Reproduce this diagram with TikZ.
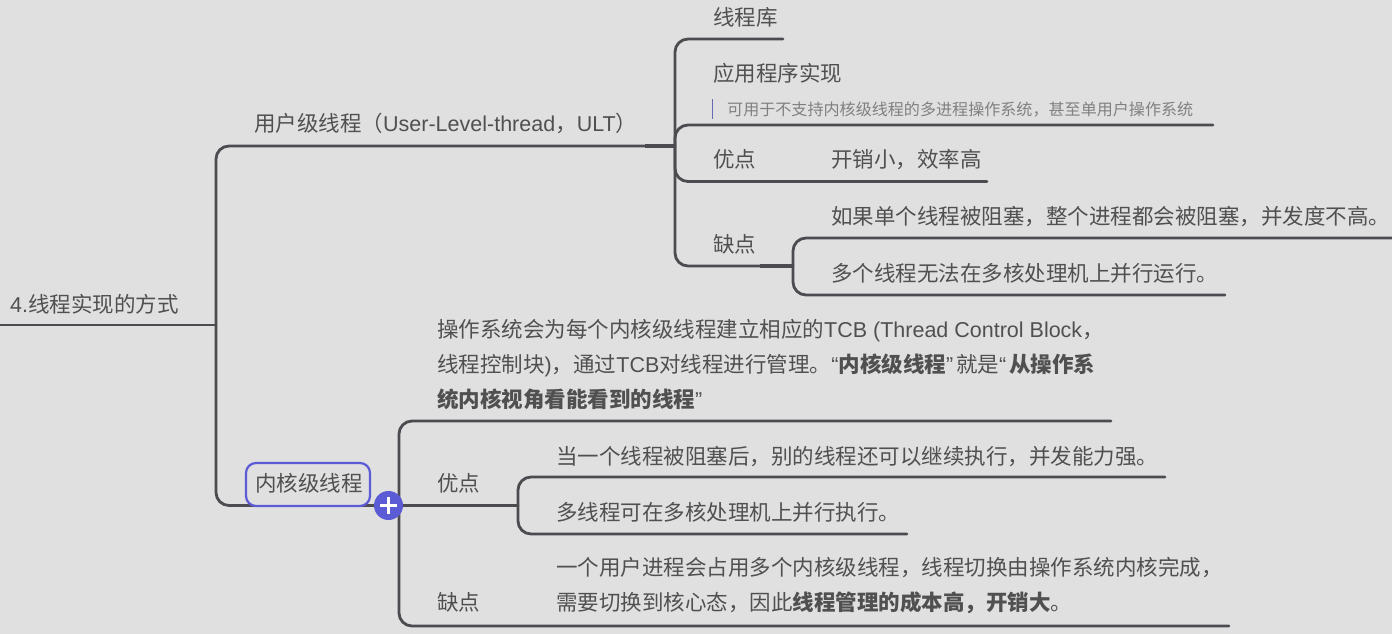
\documentclass[tikz,border=0pt]{standalone}
\usepackage{fontspec}
\setmainfont{Noto Sans CJK SC}
\newfontfamily\lat{Liberation Sans}
\newcommand{\lt}[1]{{\lat #1}}
\definecolor{bgc}{HTML}{E0E0E0}
\definecolor{linec}{HTML}{4C4B50}
\definecolor{textc}{HTML}{505050}
\definecolor{notec}{HTML}{808080}
\definecolor{accent}{HTML}{5B5BD6}
\tikzset{
  label/.style={anchor=west,inner sep=0pt,yshift=0.7pt,text=textc,font=\fontsize{21.5}{35}\selectfont},
  note/.style={anchor=west,inner sep=0pt,yshift=0.7pt,text=notec,font=\fontsize{16.07}{20}\selectfont},
  branch/.style={draw=linec,line width=2.8pt,rounded corners=13pt,line cap=round},
  hub/.style={draw=linec,line width=3.8pt},
}
\begin{document}
\begin{tikzpicture}[x=1pt,y=-1pt]
\path[fill=bgc] (0,0) rectangle (1392,634);
\useasboundingbox (0,0) rectangle (1392,634);
% hubs and free ends
\coordinate (start) at (0,325);
\coordinate (hubroot) at (216,325);
\coordinate (hubu0) at (645,146);
\coordinate (hubu) at (675,146);
\coordinate (hubk) at (399,505.5);
\coordinate (hubkp0) at (487,505.5);
\coordinate (hubkp) at (518,505.5);
\coordinate (hubud0) at (760,266);
\coordinate (hubud) at (793,266);
\coordinate (eu) at (645,146);
\coordinate (ek) at (375,505.5);
\coordinate (e1) at (783,39);
\coordinate (e2) at (1213,125);
\coordinate (e3) at (987,181.5);
\coordinate (e4a) at (1392,238);
\coordinate (e4b) at (1225,295);
\coordinate (k1) at (1111,421);
\coordinate (kp1) at (1165,477);
\coordinate (kp2) at (907,534);
\coordinate (k3) at (1229,626);
% texts
\node[label] (root) at (10,305) {\lt{4.}线程实现的方式};
\node[label] (ult) at (254,124) {用户级线程（\lt{User-Level-thread}，\lt{ULT}）};
\node[label] (u1) at (713,18) {线程库};
\node[label] (u2) at (713,74) {应用程序实现};
\node[note] (u2n) at (727,110) {可用于不支持内核级线程的多进程操作系统，甚至单用户操作系统};
\node[label] (u3) at (713,160) {优点};
\node[label] (u3a) at (831,160) {开销小，效率高};
\node[label] (u4) at (713,245) {缺点};
\node[label] (u4a) at (831,217) {如果单个线程被阻塞，整个进程都会被阻塞，并发度不高。};
\node[label] (u4b) at (831,274) {多个线程无法在多核处理机上并行运行。};
\node[label,align=left] (k1t) at (437,365) {操作系统会为每个内核级线程建立相应的\lt{TCB (Thread Control Block}，\\线程控制块\lt{)}，通过\lt{TCB}对线程进行管理。\lt{“}\textbf{内核级线程}\lt{”}\kern3pt 就是\lt{“}\kern3pt\textbf{从操作系}\\\textbf{统内核视角看能看到的线程}\lt{”}};
\node[label] (k2) at (437,484) {优点};
\node[label] (k2a) at (556,457) {当一个线程被阻塞后，别的线程还可以继续执行，并发能力强。};
\node[label] (k2b) at (556,513) {多线程可在多核处理机上并行执行。};
\node[label] (k3t) at (437,603) {缺点};
\node[label,align=left] (k3a) at (556,586.5) {一个用户进程会占用多个内核级线程，线程切换由操作系统内核完成，\\需要切换到核心态，因此\textbf{线程管理的成本高，开销大}。};
% connectors
\draw[draw=linec,line width=2.8pt] (start) -- (hubroot);
\draw[branch] (hubroot) |- (eu);
\draw[branch] (hubroot) |- (ek);
\draw[hub] (hubu0) -- (hubu);
\draw[branch] (hubu) |- (e1);
\draw[branch] (hubu) |- (e2);
\draw[branch] (hubu) |- (e3);
\draw[branch] (hubu) |- (hubud);
\draw[hub] (hubud0) -- (hubud);
\draw[branch] (hubud) |- (e4a);
\draw[branch] (hubud) |- (e4b);
\draw[branch] (hubk) |- (k1);
\draw[branch] (hubk) |- (k3);
\draw[draw=linec,line width=2.8pt] (ek) -- (hubkp);
\draw[hub] (hubkp0) -- (hubkp);
\draw[branch] (hubkp) |- (kp1);
\draw[branch] (hubkp) |- (kp2);
% note bar
\draw[draw=accent!60!gray,line width=1pt] (712,99) -- (712,119);
% selected node
\node[draw=accent,line width=2.2pt,rounded corners=10pt,fill=bgc,minimum width=124pt,minimum height=43pt,inner sep=0pt] (ksel) at (308,484.5) {};
\node[label] (kt) at (255,484) {内核级线程};
\node[circle,fill=accent,minimum size=29pt,inner sep=0pt] (plus) at (388.5,505.5) {};
\draw[white,line width=3pt] (380,505.5) -- (397,505.5) (388.5,497) -- (388.5,514);
\end{tikzpicture}
\end{document}
